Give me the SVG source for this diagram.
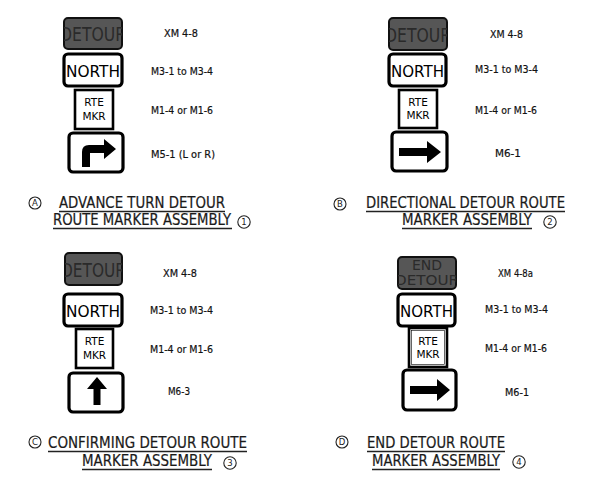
<svg xmlns="http://www.w3.org/2000/svg" width="589" height="477" viewBox="0 0 589 477">
<style>
.bg{fill:#fff}
.det{fill:#565656;stroke:#111;stroke-width:2}
.dtx{font-family:"DejaVu Sans",Verdana,sans-serif;font-size:20px;fill:#2a2a2a}
.dtx2{font-family:"DejaVu Sans",Verdana,sans-serif;font-size:14px;fill:#2a2a2a}
.wh{fill:#fff;stroke:#000;stroke-width:3.2}
.rte{fill:#fff;stroke:#000;stroke-width:2.6}
.ntx{font-family:"DejaVu Sans",Verdana,sans-serif;font-size:16.5px;fill:#000}
.rtx{font-family:"DejaVu Sans",Verdana,sans-serif;font-size:10.5px;fill:#000}
.lbl{font-family:"DejaVu Sans",Verdana,sans-serif;font-size:10px;fill:#111;stroke:#111;stroke-width:0.2}
.cap{font-family:"DejaVu Sans Condensed","DejaVu Sans",sans-serif;font-size:15px;fill:#1a1a1a;stroke:#1a1a1a;stroke-width:0.2}
.ul{stroke:#222;stroke-width:1.3}
.cir{fill:#fff;stroke:#222;stroke-width:1.1}
.ctx{font-family:"DejaVu Sans",Verdana,sans-serif;font-size:8.5px;fill:#222;text-anchor:middle}
.arr{fill:#000}
</style>
<defs>
<clipPath id="cA"><rect x="64" y="18" width="58" height="31" rx="4"/></clipPath>
<clipPath id="cB"><rect x="389" y="18" width="58" height="32" rx="4"/></clipPath>
<clipPath id="cC"><rect x="65" y="253" width="57" height="32" rx="4"/></clipPath>
<clipPath id="cD"><rect x="398" y="257" width="58" height="32" rx="4"/></clipPath>
</defs>
<rect class="bg" x="0" y="0" width="589" height="477"/>

<g id="panelA">
<g id="A-detour"><rect class="det" x="64" y="18" width="58" height="31" rx="4"/><text class="dtx" x="60" y="41" textLength="66" lengthAdjust="spacingAndGlyphs" clip-path="url(#cA)">DETOUR</text></g>
<g id="A-north"><rect class="wh" x="64" y="54" width="58" height="32" rx="4"/><text class="ntx" x="66" y="77" textLength="54" lengthAdjust="spacingAndGlyphs">NORTH</text></g>
<g id="A-rte"><rect class="rte" x="75" y="90" width="38" height="39"/><text class="rtx" x="94" y="106" text-anchor="middle">RTE</text><text class="rtx" x="94" y="120" text-anchor="middle">MKR</text></g>
<g id="A-arrow"><rect class="wh" x="69" y="133" width="54" height="39" rx="4"/><path class="arr" d="M82,167 L82,152 Q82,145 89,145 L104,145 L104,139 L116,149 L104,159 L104,153 L90,153 L90,167 Z"/></g>
<g id="A-labels">
<text class="lbl" x="164" y="37" textLength="34" lengthAdjust="spacingAndGlyphs">XM 4-8</text>
<text class="lbl" x="151" y="75" textLength="62" lengthAdjust="spacingAndGlyphs">M3-1 to M3-4</text>
<text class="lbl" x="151" y="114" textLength="62" lengthAdjust="spacingAndGlyphs">M1-4 or M1-6</text>
<text class="lbl" x="151" y="158" textLength="64" lengthAdjust="spacingAndGlyphs">M5-1 (L or R)</text>
</g>
<g id="A-caption">
<circle class="cir" cx="35" cy="203" r="6"/><text class="ctx" x="35" y="206">A</text>
<text class="cap" x="59" y="208" textLength="166" lengthAdjust="spacingAndGlyphs">ADVANCE TURN DETOUR</text>
<line class="ul" x1="59" y1="211.5" x2="225" y2="211.5"/>
<text class="cap" x="53" y="225" textLength="178" lengthAdjust="spacingAndGlyphs">ROUTE MARKER ASSEMBLY</text>
<line class="ul" x1="53" y1="228.5" x2="232" y2="228.5"/>
<circle class="cir" cx="244" cy="222" r="6.2"/><text class="ctx" x="244" y="225">1</text>
</g>
</g>

<g id="panelB">
<g id="B-detour"><rect class="det" x="389" y="18" width="58" height="32" rx="4"/><text class="dtx" x="385" y="41.5" textLength="66" lengthAdjust="spacingAndGlyphs" clip-path="url(#cB)">DETOUR</text></g>
<g id="B-north"><rect class="wh" x="389" y="54" width="57" height="32" rx="4"/><text class="ntx" x="391" y="77" textLength="53" lengthAdjust="spacingAndGlyphs">NORTH</text></g>
<g id="B-rte"><rect class="rte" x="399" y="90" width="38" height="38"/><text class="rtx" x="418" y="106" text-anchor="middle">RTE</text><text class="rtx" x="418" y="119" text-anchor="middle">MKR</text></g>
<g id="B-arrow"><rect class="wh" x="392" y="132" width="55" height="39" rx="4"/><path class="arr" d="M399,148 L427,148 L427,141 L441,152 L427,163 L427,156 L399,156 Z"/></g>
<g id="B-labels">
<text class="lbl" x="490" y="38" textLength="33" lengthAdjust="spacingAndGlyphs">XM 4-8</text>
<text class="lbl" x="475" y="73" textLength="63" lengthAdjust="spacingAndGlyphs">M3-1 to M3-4</text>
<text class="lbl" x="475" y="114" textLength="62" lengthAdjust="spacingAndGlyphs">M1-4 or M1-6</text>
<text class="lbl" x="495" y="157" textLength="26" lengthAdjust="spacingAndGlyphs">M6-1</text>
</g>
<g id="B-caption">
<circle class="cir" cx="340" cy="204" r="6"/><text class="ctx" x="340" y="207">B</text>
<text class="cap" x="366" y="208" textLength="199" lengthAdjust="spacingAndGlyphs">DIRECTIONAL DETOUR ROUTE</text>
<line class="ul" x1="366" y1="211.5" x2="565" y2="211.5"/>
<text class="cap" x="402" y="225" textLength="130" lengthAdjust="spacingAndGlyphs">MARKER ASSEMBLY</text>
<line class="ul" x1="402" y1="228.5" x2="532" y2="228.5"/>
<circle class="cir" cx="550" cy="222" r="6.2"/><text class="ctx" x="550" y="225">2</text>
</g>
</g>

<g id="panelC">
<g id="C-detour"><rect class="det" x="65" y="253" width="57" height="32" rx="4"/><text class="dtx" x="61" y="276.5" textLength="65" lengthAdjust="spacingAndGlyphs" clip-path="url(#cC)">DETOUR</text></g>
<g id="C-north"><rect class="wh" x="64" y="294" width="58" height="32" rx="4"/><text class="ntx" x="66" y="317" textLength="54" lengthAdjust="spacingAndGlyphs">NORTH</text></g>
<g id="C-rte"><rect class="rte" x="76" y="329" width="37" height="39"/><text class="rtx" x="94.5" y="345" text-anchor="middle">RTE</text><text class="rtx" x="94.5" y="359" text-anchor="middle">MKR</text></g>
<g id="C-arrow"><rect class="wh" x="69" y="373" width="54" height="39" rx="4"/><path class="arr" d="M97,377 L107,389 L100.5,389 L100.5,405 L93.5,405 L93.5,389 L87,389 Z"/></g>
<g id="C-labels">
<text class="lbl" x="163" y="277" textLength="34" lengthAdjust="spacingAndGlyphs">XM 4-8</text>
<text class="lbl" x="150" y="314" textLength="63" lengthAdjust="spacingAndGlyphs">M3-1 to M3-4</text>
<text class="lbl" x="150" y="353" textLength="63" lengthAdjust="spacingAndGlyphs">M1-4 or M1-6</text>
<text class="lbl" x="168" y="395" textLength="22" lengthAdjust="spacingAndGlyphs">M6-3</text>
</g>
<g id="C-caption">
<circle class="cir" cx="35" cy="442" r="6"/><text class="ctx" x="35" y="445">C</text>
<text class="cap" x="48" y="448" textLength="199" lengthAdjust="spacingAndGlyphs">CONFIRMING DETOUR ROUTE</text>
<line class="ul" x1="48" y1="451.5" x2="247" y2="451.5"/>
<text class="cap" x="82" y="466" textLength="130" lengthAdjust="spacingAndGlyphs">MARKER ASSEMBLY</text>
<line class="ul" x1="82" y1="469.5" x2="212" y2="469.5"/>
<circle class="cir" cx="230" cy="463" r="6.2"/><text class="ctx" x="230" y="466">3</text>
</g>
</g>

<g id="panelD">
<g id="D-detour"><rect class="det" x="398" y="257" width="58" height="32" rx="4"/><text class="dtx2" x="427" y="269.5" text-anchor="middle" clip-path="url(#cD)">END</text><text class="dtx2" x="395" y="285" textLength="64" lengthAdjust="spacingAndGlyphs" clip-path="url(#cD)">DETOUR</text></g>
<g id="D-north"><rect class="wh" x="398" y="294" width="57" height="32" rx="4"/><text class="ntx" x="400" y="317" textLength="53" lengthAdjust="spacingAndGlyphs">NORTH</text></g>
<g id="D-rte"><rect class="rte" x="409" y="328" width="38" height="39"/><rect x="411.5" y="330.5" width="33" height="34" fill="none" stroke="#000" stroke-width="0.6"/><text class="rtx" x="428" y="345" text-anchor="middle">RTE</text><text class="rtx" x="428" y="358" text-anchor="middle">MKR</text></g>
<g id="D-arrow"><rect class="wh" x="403" y="370" width="53" height="40" rx="4"/><path class="arr" d="M410,386 L437,386 L437,379 L450,390 L437,401 L437,394 L410,394 Z"/></g>
<g id="D-labels">
<text class="lbl" x="498" y="277" textLength="35" lengthAdjust="spacingAndGlyphs">XM 4-8a</text>
<text class="lbl" x="485" y="313" textLength="63" lengthAdjust="spacingAndGlyphs">M3-1 to M3-4</text>
<text class="lbl" x="485" y="352" textLength="62" lengthAdjust="spacingAndGlyphs">M1-4 or M1-6</text>
<text class="lbl" x="505" y="396" textLength="24" lengthAdjust="spacingAndGlyphs">M6-1</text>
</g>
<g id="D-caption">
<circle class="cir" cx="342" cy="442" r="6"/><text class="ctx" x="342" y="445">D</text>
<text class="cap" x="367" y="448" textLength="138" lengthAdjust="spacingAndGlyphs">END DETOUR ROUTE</text>
<line class="ul" x1="367" y1="451.5" x2="505" y2="451.5"/>
<text class="cap" x="372" y="466" textLength="128" lengthAdjust="spacingAndGlyphs">MARKER ASSEMBLY</text>
<line class="ul" x1="372" y1="469.5" x2="500" y2="469.5"/>
<circle class="cir" cx="519" cy="462" r="6.2"/><text class="ctx" x="519" y="465">4</text>
</g>
</g>
</svg>
